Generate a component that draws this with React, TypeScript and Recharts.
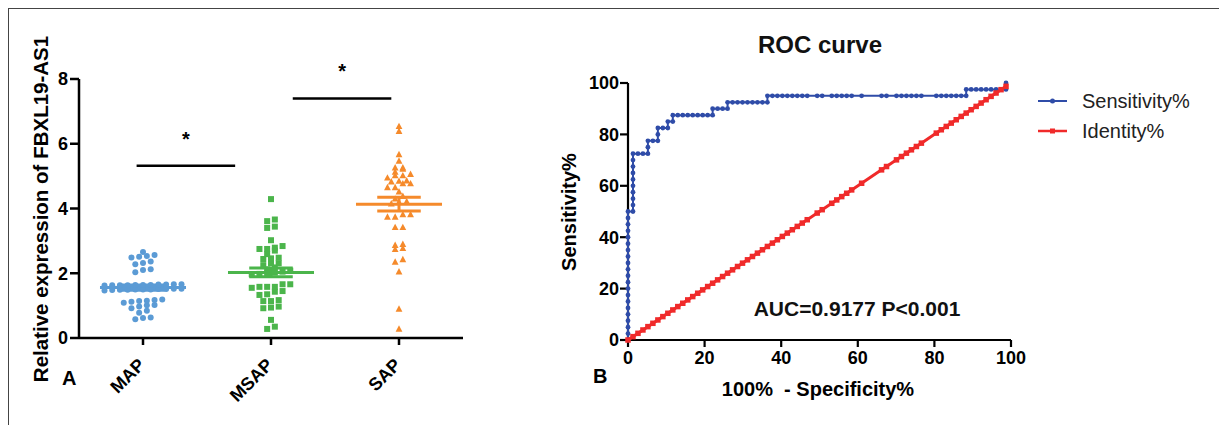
import React from 'react';
import { ScatterChart, Scatter, XAxis, YAxis, ReferenceLine, Label } from 'recharts';

const FONT = '"Liberation Sans", Arial, sans-serif';

const groups = ['MAP', 'MSAP', 'SAP'];

// relative expression of FBXL19-AS1 per group
const mapValues = [
  2.66, 2.56, 2.53, 2.51, 2.49, 2.36, 2.32, 2.28, 2.12, 2.1, 2.03,
  1.66, 1.65, 1.65, 1.64, 1.64, 1.63, 1.63, 1.62, 1.66, 1.64, 1.63,
  1.52, 1.51, 1.51, 1.5, 1.5, 1.49, 1.49, 1.48, 1.52, 1.5, 1.47,
  1.19, 1.17, 1.15, 1.14, 1.12, 1.09, 1.02, 1.01, 0.97, 0.92, 0.84, 0.78, 0.63, 0.62, 0.58,
];
const msapValues = [
  4.29, 3.61, 3.66, 3.4, 3.44, 3.02, 2.84, 2.75, 2.7, 2.75, 2.79, 2.59, 2.46, 2.44, 2.48,
  2.31, 2.25, 2.31, 2.18, 2.12, 2.08, 2.05, 2.02, 1.98, 2.0, 1.97,
  1.66, 1.58, 1.55, 1.58, 1.58, 1.66, 1.33, 1.45, 1.43, 1.35, 1.14, 1.14, 1.17,
  0.94, 0.92, 0.97, 0.56, 0.28, 0.35,
];
const sapValues = [
  6.54, 6.39, 5.67, 5.47, 5.26, 5.22, 5.26, 5.06, 5.02, 5.02, 5.13, 4.95, 4.85, 4.86,
  4.77, 4.77, 4.83, 4.65, 4.52, 4.65, 4.38, 4.3, 4.22, 4.15, 4.2,
  3.82, 3.74, 3.74, 3.82, 3.42, 3.42, 2.87, 2.74, 2.77, 2.9, 2.43, 2.35, 2.05, 0.9, 0.28,
];

// significance brackets (x range in category units, height in expression units)
const sigFrom = [0.95, 2.17];
const sigTo = [1.72, 2.94];
const sigY = [5.32, 7.4];

// ROC curve: 100% - specificity% and sensitivity%
const rocFpr = [
  0, 0, 0, 0, 0, 0, 0, 0, 0, 0, 0, 0, 0, 0, 0, 0, 0, 0, 0, 0, 0,
  1.3, 1.3, 1.3, 1.3, 1.3, 1.3, 1.3, 1.3, 1.3, 1.3,
  2.6, 3.9, 5.2, 5.2, 5.2,
  6.5, 7.8, 7.8, 7.8,
  9.1, 10.4, 10.4, 11.7, 11.7,
  13, 14.3, 15.6, 16.9, 18.2, 19.5, 20.8, 22.1, 22.1,
  23.4, 24.7, 26, 26,
  27.3, 28.6, 29.9, 31.2, 32.5, 33.8, 35.1, 36.4, 36.4,
  37.7, 39, 40.3, 41.6, 42.9, 44.2, 45.5, 46.8, 49.4, 50.7,
  53.2, 54.5, 55.8, 57.1, 58.4, 61, 66.2, 67.5, 70.1, 71.4,
  72.7, 74, 75.3, 76.6, 80.5, 81.8, 83.1, 84.4, 85.7, 87,
  88.3, 88.3,
  89.6, 90.9, 92.2, 93.5, 94.8, 96.1, 97.4, 98.7, 98.7,
];
const rocTpr = [
  0, 2.5, 5, 7.5, 10, 12.5, 15, 17.5, 20, 22.5, 25, 27.5, 30, 32.5, 35, 37.5, 40, 42.5, 45, 47.5, 50,
  50, 52.5, 55, 57.5, 60, 62.5, 65, 67.5, 70, 72.5,
  72.5, 72.5, 72.5, 75, 77.5,
  77.5, 77.5, 80, 82.5,
  82.5, 82.5, 85, 85, 87.5,
  87.5, 87.5, 87.5, 87.5, 87.5, 87.5, 87.5, 87.5, 90,
  90, 90, 90, 92.5,
  92.5, 92.5, 92.5, 92.5, 92.5, 92.5, 92.5, 92.5, 95,
  95, 95, 95, 95, 95, 95, 95, 95, 95, 95,
  95, 95, 95, 95, 95, 95, 95, 95, 95, 95,
  95, 95, 95, 95, 95, 95, 95, 95, 95, 95,
  95, 97.5,
  97.5, 97.5, 97.5, 97.5, 97.5, 97.5, 97.5, 97.5, 100,
];

const BLUE_DOT = '#5b9bd5';
const GREEN = '#4bb54b';
const ORANGE = '#f58a2b';
const ROC_BLUE = '#2f4ca8';
const ROC_RED = '#f02a2a';

// dot-plot layout: close values share a row, rows are centred on the category
const swarm = (values: number[], cat: number) => {
  const pxPerCat = 128, rowTol = 0.12, step = 7.7;
  const sorted = [...values].sort((a, b) => a - b);
  const rows: number[][] = [];
  for (const v of sorted) {
    const last = rows[rows.length - 1];
    if (last && v - last[0] <= rowTol) last.push(v);
    else rows.push([v]);
  }
  const out: { x: number; y: number }[] = [];
  rows.forEach(row => {
    row.forEach((v, j) => {
      out.push({ x: cat + ((j - (row.length - 1) / 2) * step) / pxPerCat, y: v });
    });
  });
  return out;
};

const stats = (values: number[]) => {
  const n = values.length;
  const mean = values.reduce((s, v) => s + v, 0) / n;
  const sd = Math.sqrt(values.reduce((s, v) => s + (v - mean) ** 2, 0) / (n - 1));
  return { mean, sem: sd / Math.sqrt(n) };
};

const groupSets = [
  { values: mapValues, color: BLUE_DOT, cat: 1 },
  { values: msapValues, color: GREEN, cat: 2 },
  { values: sapValues, color: ORANGE, cat: 3 },
];

const circleShape = (color: string, r: number) => (props: any) => (
  <circle cx={props.cx} cy={props.cy} r={r} fill={color} />
);
const squareShape = (color: string, s: number) => (props: any) => (
  <rect x={props.cx - s / 2} y={props.cy - s / 2} width={s} height={s} fill={color} />
);
const triangleShape = (color: string) => (props: any) => (
  <polygon
    points={`${props.cx},${props.cy - 3.6} ${props.cx + 3.4},${props.cy + 2.8} ${props.cx - 3.4},${props.cy + 2.8}`}
    fill={color}
  />
);
const shapes = [circleShape(BLUE_DOT, 3), squareShape(GREEN, 6), triangleShape(ORANGE)];

const CategoryTick = (props: any) => {
  const { x, y, payload } = props;
  const px = x + 3;
  const py = y + 19;
  return (
    <text
      x={px}
      y={py}
      transform={`rotate(-45 ${px} ${py})`}
      textAnchor="end"
      fontSize={18}
      fontWeight="bold"
      fill="#000"
      fontFamily={FONT}
    >
      {groups[payload.value - 1]}
    </text>
  );
};

const axisStyle = { stroke: '#000', strokeWidth: 2.5 };
const tickFont = { fill: '#000', fontSize: 18, fontWeight: 'bold' as const, fontFamily: FONT };

const ScatterPanel = () => (
  <ScatterChart width={480} height={417} margin={{ top: 71, right: 25, bottom: 27, left: 10 }}>
    <XAxis
      type="number"
      dataKey="x"
      domain={[0.5, 3.5]}
      ticks={[1, 2, 3]}
      interval={0}
      height={60}
      tickSize={7}
      tick={<CategoryTick />}
      axisLine={axisStyle}
      tickLine={axisStyle}
    />
    <YAxis
      type="number"
      dataKey="y"
      domain={[0, 8]}
      ticks={[0, 2, 4, 6, 8]}
      width={61}
      tickSize={9}
      tickMargin={2}
      tick={tickFont}
      axisLine={axisStyle}
      tickLine={axisStyle}
    >
      <Label
        content={() => (
          <text
            x={32}
            y={201}
            transform="rotate(-90 32 201)"
            textAnchor="middle"
            dominantBaseline="central"
            fontSize={20.5}
            fontWeight="bold"
            fill="#000"
            fontFamily={FONT}
          >
            Relative expression of FBXL19-AS1
          </text>
        )}
      />
    </YAxis>
    {groupSets.map((g, i) => (
      <Scatter key={groups[i]} data={swarm(g.values, g.cat)} shape={shapes[i]} isAnimationActive={false} />
    ))}
    {groupSets.map((g, i) => {
      const { mean, sem } = stats(g.values);
      return (
        <React.Fragment key={`m-${i}`}>
          <ReferenceLine
            segment={[{ x: g.cat - 0.336, y: mean }, { x: g.cat + 0.336, y: mean }]}
            stroke={g.color}
            strokeWidth={3}
          />
          <ReferenceLine
            segment={[{ x: g.cat - 0.17, y: mean + sem }, { x: g.cat + 0.17, y: mean + sem }]}
            stroke={g.color}
            strokeWidth={3}
          />
          <ReferenceLine
            segment={[{ x: g.cat - 0.17, y: mean - sem }, { x: g.cat + 0.17, y: mean - sem }]}
            stroke={g.color}
            strokeWidth={3}
          />
          <ReferenceLine
            segment={[{ x: g.cat, y: mean - sem }, { x: g.cat, y: mean + sem }]}
            stroke={g.color}
            strokeWidth={3}
          />
        </React.Fragment>
      );
    })}
    {sigY.map((y, i) => (
      <ReferenceLine
        key={`s-${i}`}
        segment={[{ x: sigFrom[i], y }, { x: sigTo[i], y }]}
        stroke="#000"
        strokeWidth={2.5}
        label={{ value: '*', position: 'top', offset: 20, fontSize: 20, fontWeight: 'bold', fill: '#000' }}
      />
    ))}
  </ScatterChart>
);

const sensData = rocFpr.map((x, i) => ({ x, y: rocTpr[i] }));
const identData = Array.from(new Set(rocFpr)).map(x => ({ x, y: x }));

const rocAxis = { stroke: '#000', strokeWidth: 2.2 };

const RocPanel = () => (
  <ScatterChart width={687} height={417} margin={{ top: 75, right: 216, bottom: 45, left: 20 }}>
    <XAxis
      type="number"
      dataKey="x"
      domain={[0, 100]}
      ticks={[0, 20, 40, 60, 80, 100]}
      height={40}
      tickSize={7}
      tickMargin={4}
      tick={tickFont}
      axisLine={rocAxis}
      tickLine={rocAxis}
    />
    <YAxis
      type="number"
      dataKey="y"
      domain={[0, 100]}
      ticks={[0, 20, 40, 60, 80, 100]}
      width={68}
      tickSize={8}
      tickMargin={1}
      tick={tickFont}
      axisLine={rocAxis}
      tickLine={rocAxis}
    />
    <Scatter
      data={sensData}
      line={{ stroke: ROC_BLUE, strokeWidth: 2 }}
      lineType="joint"
      shape={circleShape(ROC_BLUE, 2.4)}
      isAnimationActive={false}
    />
    <Scatter
      data={identData}
      line={{ stroke: ROC_RED, strokeWidth: 3 }}
      lineType="joint"
      shape={squareShape(ROC_RED, 5.5)}
      isAnimationActive={false}
    />
  </ScatterChart>
);

export default function App() {
  return (
    <div style={{ position: 'relative', width: 1219, height: 417, fontFamily: FONT }}>
      <style>{'body{overflow:hidden}'}</style>
      <div
        style={{
          position: 'absolute',
          left: 0,
          top: 0,
          width: 1230,
          height: 430,
          borderTop: '1px solid #444',
          borderLeft: '1px solid #444',
        }}
      />
      <div style={{ position: 'absolute', left: 0, top: 0 }}>
        <ScatterPanel />
      </div>
      <div style={{ position: 'absolute', left: 532, top: 0 }}>
        <RocPanel />
      </div>
      <svg
        width={1219}
        height={417}
        style={{ position: 'absolute', left: 0, top: 0, pointerEvents: 'none', overflow: 'visible' }}
        fontFamily={FONT}
      >
        <text x={54} y={377} fontSize={20} fontWeight="bold" fill="#000">A</text>
        <text x={585} y={375} fontSize={20} fontWeight="bold" fill="#000">B</text>
        <text x={812} y={45} textAnchor="middle" fontSize={24} fontWeight="bold" fill="#111">ROC curve</text>
        <text x={849} y={308} textAnchor="middle" fontSize={21} fontWeight="bold" fill="#111">AUC=0.9177 P&lt;0.001</text>
        <text
          x={561}
          y={204}
          transform="rotate(-90 561 204)"
          textAnchor="middle"
          dominantBaseline="central"
          fontSize={20}
          fontWeight="bold"
          fill="#000"
        >
          Sensitivity%
        </text>
        <text x={810} y={388} textAnchor="middle" fontSize={20} fontWeight="bold" fill="#000" style={{ whiteSpace: 'pre' }}>
          {'100%  - Specificity%'}
        </text>
        <line x1={1030} y1={93} x2={1059} y2={93} stroke={ROC_BLUE} strokeWidth={2} />
        <circle cx={1044.5} cy={93} r={2.5} fill={ROC_BLUE} />
        <text x={1074} y={93} dominantBaseline="central" fontSize={20} fill="#222">Sensitivity%</text>
        <line x1={1030} y1={123} x2={1059} y2={123} stroke={ROC_RED} strokeWidth={2.5} />
        <rect x={1042} y={120.5} width={5} height={5} fill={ROC_RED} />
        <text x={1074} y={123} dominantBaseline="central" fontSize={20} fill="#222">Identity%</text>
      </svg>
    </div>
  );
}
